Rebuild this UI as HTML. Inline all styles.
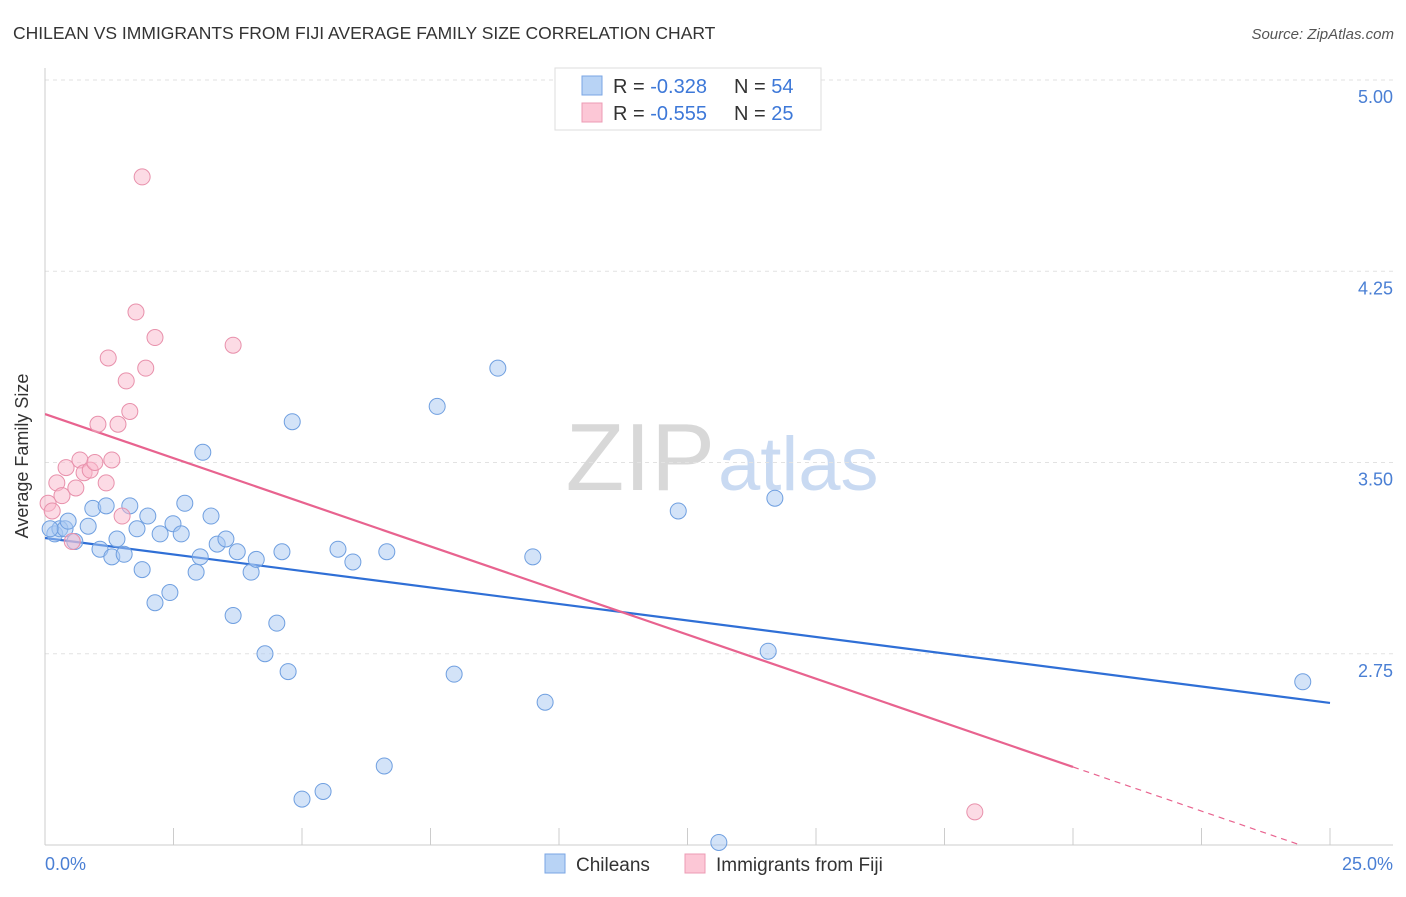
<!DOCTYPE html>
<html><head><meta charset="utf-8"><style>
body{margin:0;background:#fff;font-family:"Liberation Sans",sans-serif;}
svg text{font-family:"Liberation Sans",sans-serif;}
</style></head><body>
<svg id="c" width="1406" height="892" xmlns="http://www.w3.org/2000/svg">
<defs><clipPath id="plotclip"><rect x="45" y="60" width="1350" height="785"/></clipPath></defs>
<text x="13" y="39" font-size="17.5" fill="#333">CHILEAN VS IMMIGRANTS FROM FIJI AVERAGE FAMILY SIZE CORRELATION CHART</text>
<text x="1394" y="39" font-size="15" fill="#555" font-style="italic" text-anchor="end">Source: ZipAtlas.com</text>
<text x="715" y="490" font-size="96" fill="#d8d8d8" text-anchor="end" font-family="Liberation Serif">ZIP</text>
<text x="718" y="490" font-size="76" fill="#c9daf2">atlas</text>
<g id="grid"></g>
<line x1="45" y1="68" x2="45" y2="845" stroke="#ccc"/>
<line x1="45" y1="845" x2="1393" y2="845" stroke="#ccc"/>
<g id="ticks"></g>
<text x="28" y="456" font-size="18" fill="#333" text-anchor="middle" transform="rotate(-90 28 456)">Average Family Size</text>
<text x="45" y="870" font-size="18" fill="#4a7fd4">0.0%</text>
<text x="1393" y="870" font-size="18" fill="#4a7fd4" text-anchor="end">25.0%</text>
<g id="lines" clip-path="url(#plotclip)"></g>
<g id="pts"></g>
<g>
<rect x="555" y="68" width="266" height="62" fill="#fff" stroke="#ddd"/>
<rect x="582" y="76" width="20" height="19" fill="#b8d3f5" stroke="#7aa6e4"/>
<rect x="582" y="103" width="20" height="19" fill="#fcc7d6" stroke="#ec9bb4"/>
<text x="613" y="93" font-size="20" fill="#333">R = <tspan fill="#3d78d8">-0.328</tspan><tspan x="734">N = </tspan><tspan fill="#3d78d8">54</tspan></text>
<text x="613" y="120" font-size="20" fill="#333">R = <tspan fill="#3d78d8">-0.555</tspan><tspan x="734">N = </tspan><tspan fill="#3d78d8">25</tspan></text>
</g>
<g>
<rect x="545" y="854" width="20" height="19" fill="#b8d3f5" stroke="#7aa6e4"/>
<text x="576" y="871" font-size="19" fill="#333">Chileans</text></g>
<g>
<rect x="685" y="854" width="20" height="19" fill="#fcc7d6" stroke="#ec9bb4"/>
<text x="716" y="871" font-size="19" fill="#333">Immigrants from Fiji</text></g>
</svg>
<script>
const yTicks=[5.00,4.25,3.50,2.75];
const xTickVals=[0,2.5,5,7.5,10,12.5,15,17.5,20,22.5,25];
const blueX=[0.19,0.29,0.39,0.45,0.58,0.84,0.93,1.07,1.19,1.30,1.40,1.54,1.65,1.79,1.89,2.00,2.14,2.24,2.43,2.49,2.65,2.72,2.94,3.02,3.07,3.23,3.35,3.52,3.66,3.74,4.01,4.11,4.28,4.51,4.61,4.73,4.81,5.00,5.41,5.70,5.99,6.60,6.65,7.63,7.96,8.81,9.49,9.73,12.32,13.11,14.07,14.20,24.47,0.10];
const blueY=[3.22,3.24,3.24,3.27,3.19,3.25,3.32,3.16,3.33,3.13,3.20,3.14,3.33,3.24,3.08,3.29,2.95,3.22,2.99,3.26,3.22,3.34,3.07,3.13,3.54,3.29,3.18,3.20,2.90,3.15,3.07,3.12,2.75,2.87,3.15,2.68,3.66,2.18,2.21,3.16,3.11,2.31,3.15,3.72,2.67,3.87,3.13,2.56,3.31,2.01,2.76,3.36,2.64,3.24];
const pinkX=[0.06,0.14,0.23,0.33,0.41,0.53,0.60,0.68,0.76,0.88,0.97,1.03,1.19,1.23,1.30,1.42,1.50,1.58,1.65,1.77,1.89,1.96,2.14,3.66,18.09];
const pinkY=[3.34,3.31,3.42,3.37,3.48,3.19,3.40,3.51,3.46,3.47,3.50,3.65,3.42,3.91,3.51,3.65,3.29,3.82,3.70,4.09,4.62,3.87,3.99,3.96,2.13];
const blueTrend=[3.204,2.557];
const pinkTrend=[3.69,1.96];
const pinkSolidEnd=20;
const NS="http://www.w3.org/2000/svg";
const X=v=>45+v*51.4, Y=v=>80+(5-v)*255;
function mk(t,a,p){const e=document.createElementNS(NS,t);for(const k in a)e.setAttribute(k,a[k]);document.getElementById(p).appendChild(e);return e;}
yTicks.forEach(v=>{
 const l=mk('line',{x1:45,x2:1393,y1:Y(v),y2:Y(v),stroke:'#e2e2e2','stroke-dasharray':'4 4'},'grid');
 
 
 const t=mk('text',{x:1393,y:Y(v)+23,'font-size':18,fill:'#4a7fd4','text-anchor':'end'},'grid');
 t.textContent=v.toFixed(2);
 
 
});
xTickVals.forEach(v=>{
 const l=mk('line',{x1:X(v),x2:X(v),y1:828,y2:845,stroke:'#ccc'},'ticks');
 
 
});
function dot(x,y,f,s,n){const c=mk('circle',{cx:X(x),cy:Y(y),r:8,fill:f,stroke:s,'stroke-width':1},'pts');
 
 }
blueX.forEach((x,i)=>dot(x,blueY[i],'rgba(168,200,242,0.5)','#6f9fe0','chilean-point'));
pinkX.forEach((x,i)=>dot(x,pinkY[i],'rgba(250,184,204,0.5)','#e890ab','fiji-point'));
const bl=mk('line',{x1:X(0),y1:Y(blueTrend[0]),x2:X(25),y2:Y(blueTrend[1]),stroke:'#2f6fd6','stroke-width':2.2},'lines');


const py=v=>pinkTrend[0]+(pinkTrend[1]-pinkTrend[0])*v/25;
const pl=mk('line',{x1:X(0),y1:Y(pinkTrend[0]),x2:X(pinkSolidEnd),y2:Y(py(pinkSolidEnd)),stroke:'#e8638f','stroke-width':2.2},'lines');


const pd=mk('line',{x1:X(pinkSolidEnd),y1:Y(py(pinkSolidEnd)),x2:X(25),y2:Y(py(25)),stroke:'#e8638f','stroke-width':1.2,'stroke-dasharray':'6 5'},'lines');


</script>
</body></html>
